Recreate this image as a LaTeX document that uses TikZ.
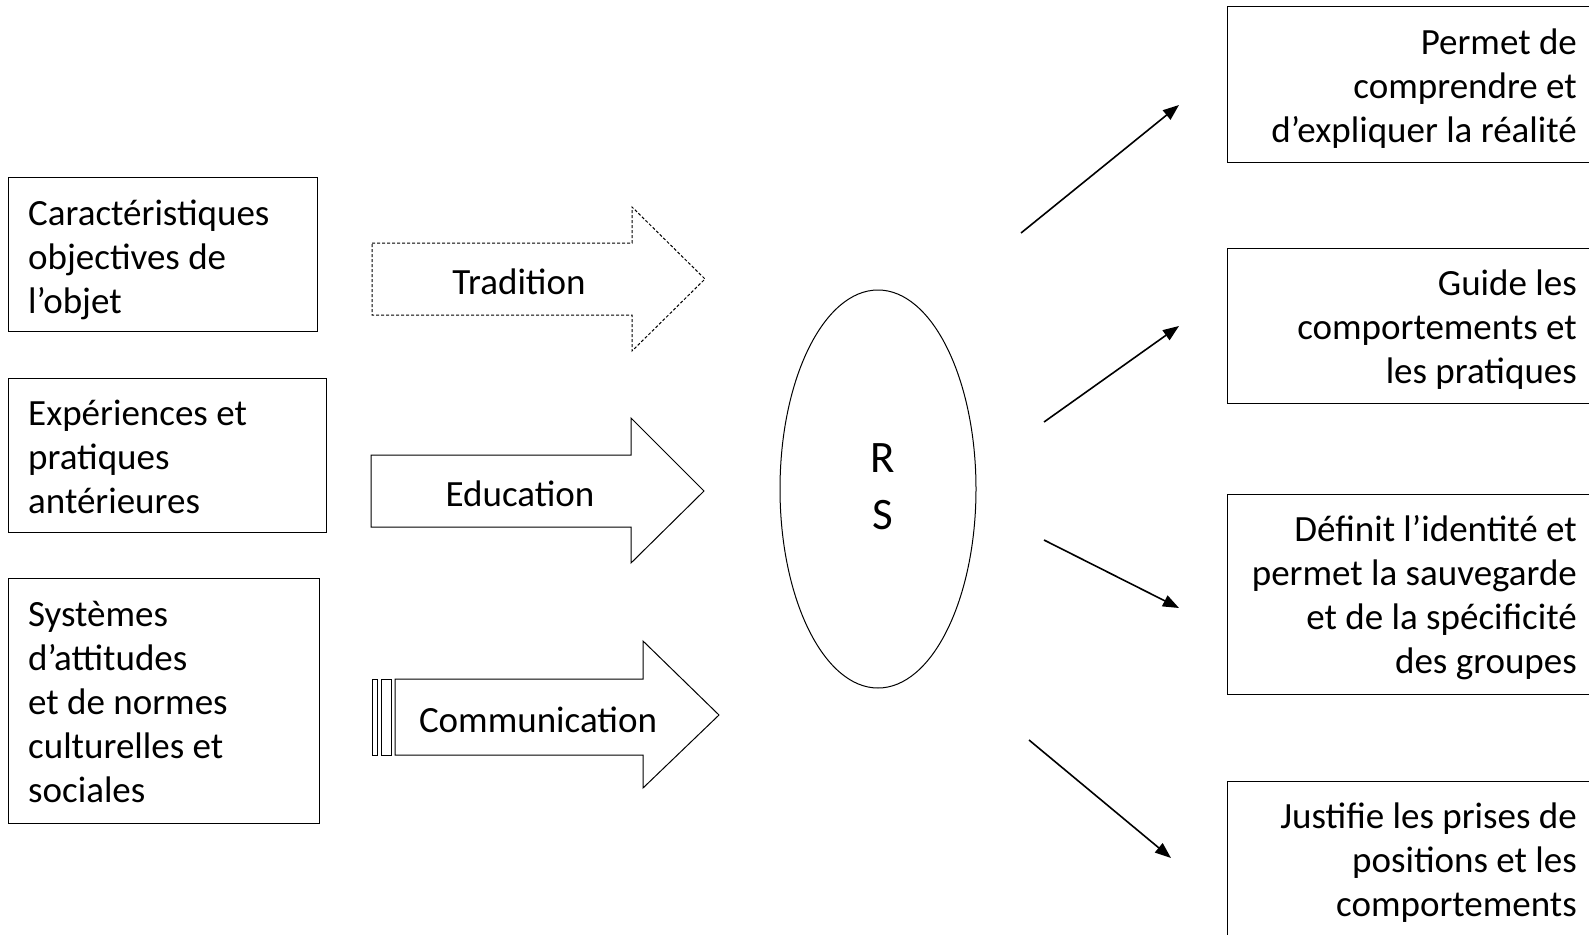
\documentclass[tikz,border=0pt]{standalone}
\usepackage{fontspec}
\setmainfont{Carlito}
\usetikzlibrary{shapes.geometric,arrows.meta}

\begin{document}
\begin{tikzpicture}[x=1pt,y=-1pt,
    font=\fontsize{37}{44}\selectfont,
    boite/.style={draw,line width=1pt,inner sep=0pt},
    gauche/.style={anchor=west,align=left,inner sep=0pt},
    droite/.style={anchor=east,align=right,inner sep=0pt},
    fleche/.style={draw,line width=1pt},
    lien/.style={line width=1.6pt,-{Triangle[length=16pt,width=12pt]}}]

    \useasboundingbox (0,0) rectangle (1589,934);

    % facteurs
    \node[boite,minimum width=309pt,minimum height=154pt] (carac) at (162.5,254) {};
    \node[gauche] (caracT) at (28,259.5) {Caractéristiques\\objectives de\\l’objet};
    \node[boite,minimum width=318pt,minimum height=154pt] (exper) at (167,455) {};
    \node[gauche] (experT) at (28,456.5) {Expériences et\\pratiques\\antérieures};
    \node[boite,minimum width=311pt,minimum height=245pt] (systemes) at (163.5,700.5) {};
    \node[gauche] (systemesT) at (28,701.5) {Systèmes\\d’attitudes\\et de normes\\culturelles et\\sociales};

    % fleches
    \draw[fleche,dash pattern=on 3pt off 2pt] (372,243) -- (632,243) -- (632,207) -- (705,279) -- (632,351) -- (632,315) -- (372,315) -- cycle;
    \node (tradition) at (519,282) {Tradition};

    \draw[fleche] (371,455) -- (631,455) -- (631,418) -- (704,491) -- (631,563) -- (631,527) -- (371,527) -- cycle;
    \node (education) at (520,494) {Education};

    \draw[fleche] (372,679) rectangle (377,755);
    \draw[fleche] (381,679) rectangle (391,755);
    \draw[fleche] (395,679) -- (643,679) -- (643,641) -- (719,715) -- (643,788) -- (643,755) -- (395,755) -- cycle;
    \node (communication) at (538,720) {Communication};

    % RS
    \node[draw,ellipse,line width=1pt,minimum width=196pt,minimum height=398pt] (rs) at (878,489) {};
    \node[align=center,font=\fontsize{45}{57}\selectfont] (rsT) at (883,487) {R\\S};

    % fonctions
    \node[boite,minimum width=369pt,minimum height=155pt] (compr) at (1411.5,84.5) {};
    \node[droite] (comprT) at (1577,89) {Permet de\\comprendre et\\d’expliquer la réalité};
    \node[boite,minimum width=369pt,minimum height=155pt] (guide) at (1411.5,325.5) {};
    \node[droite] (guideT) at (1577,330) {Guide les\\comportements et\\les pratiques};
    \node[boite,minimum width=369pt,minimum height=200pt] (identite) at (1411.5,594) {};
    \node[droite] (identiteT) at (1577,598) {Définit l’identité et\\permet la sauvegarde\\et de la spécificité\\des groupes};
    \node[boite,minimum width=369pt,minimum height=158pt] (justif) at (1411.5,860) {};
    \node[droite] (justifT) at (1577,863) {Justifie les prises de\\positions et les\\comportements};

    \coordinate (d1) at (1021,233);
    \coordinate (f1) at (1179,105);
    \coordinate (d2) at (1044,422);
    \coordinate (f2) at (1179,326);
    \coordinate (d3) at (1044,540);
    \coordinate (f3) at (1179,608);
    \coordinate (d4) at (1029,740);
    \coordinate (f4) at (1171,858);
    \draw[lien] (d1) -- (f1);
    \draw[lien] (d2) -- (f2);
    \draw[lien] (d3) -- (f3);
    \draw[lien] (d4) -- (f4);

\end{tikzpicture}
\end{document}
